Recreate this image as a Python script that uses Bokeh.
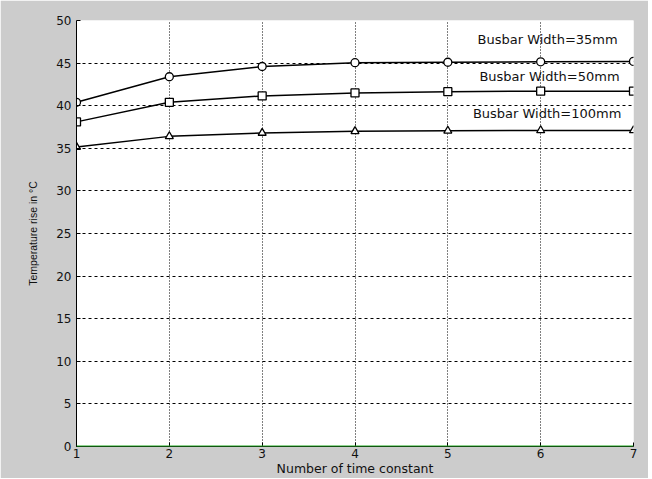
from bokeh.plotting import figure
from bokeh.models import Label, Span, FixedTicker
from bokeh.embed import file_html
from bokeh.resources import INLINE

time_constants = [1, 2, 3, 4, 5, 6, 7]
rise_35mm = [40.4, 43.4, 44.6, 45.05, 45.1, 45.15, 45.2]
rise_50mm = [38.1, 40.4, 41.15, 41.5, 41.65, 41.7, 41.7]
rise_100mm = [35.15, 36.4, 36.8, 37.0, 37.05, 37.1, 37.1]
y_ticks = [0, 5, 10, 15, 20, 25, 30, 35, 40, 45, 50]
labels = ["Busbar Width=35mm", "Busbar Width=50mm", "Busbar Width=100mm"]
label_x = [5.32, 5.34, 5.27]
label_y = [47.8, 43.4, 39.1]

FONT = "DejaVu Sans"

p = figure(width=648, height=478, output_backend="svg", toolbar_location=None,
           x_range=(1, 7), y_range=(0, 50),
           min_border_left=76, min_border_right=15, min_border_top=20, min_border_bottom=31)
p.border_fill_color = "#cccccc"
p.background_fill_color = "white"
p.outline_line_color = None

for ax in (p.xaxis[0], p.yaxis[0]):
    ax.axis_line_color = "black"
    ax.axis_line_width = 1
    ax.major_tick_in = 4
    ax.major_tick_out = 0
    ax.minor_tick_line_color = None
    ax.major_label_text_font = FONT
    ax.major_label_text_font_size = "12px"
    ax.major_label_text_color = "#111111"
    ax.axis_label_text_font_style = "normal"
    ax.axis_label_text_color = "#111111"

p.xaxis.axis_label_text_font = FONT
p.xaxis.axis_label_text_font_size = "12.5px"
p.yaxis.axis_label_text_font = "Liberation Sans"
p.yaxis.axis_label_text_font_size = "10.5px"

p.xaxis.ticker = FixedTicker(ticks=time_constants)
p.yaxis.ticker = FixedTicker(ticks=y_ticks)
p.xaxis.axis_label = "Number of time constant"
p.yaxis.axis_label = "Temperature rise in \u00b0C"
p.xaxis.major_label_standoff = 2
p.xaxis.axis_label_standoff = 0
p.yaxis.major_label_standoff = 5
p.yaxis.axis_label_standoff = 14

p.xgrid.grid_line_color = "black"
p.xgrid.grid_line_dash = "1 2"
p.xgrid.grid_line_width = 1
p.ygrid.grid_line_color = "black"
p.ygrid.grid_line_dash = "3 3"
p.ygrid.grid_line_width = 1

p.add_layout(Span(location=0, dimension="width", line_color="#22aa22", line_width=2,
                  level="overlay"))

p.line(time_constants, rise_35mm, line_color="black", line_width=1.5)
p.scatter(time_constants, rise_35mm, marker="circle", size=8, line_color="black",
          fill_color="white", line_width=1.3)
p.line(time_constants, rise_50mm, line_color="black", line_width=1.5)
p.scatter(time_constants, rise_50mm, marker="square", size=8, line_color="black",
          fill_color="white", line_width=1.3)
p.line(time_constants, rise_100mm, line_color="black", line_width=1.5)
p.scatter(time_constants, rise_100mm, marker="triangle", size=8, line_color="black",
          fill_color="white", line_width=1.3)

for t, lx, ly in zip(labels, label_x, label_y):
    p.add_layout(Label(x=lx, y=ly, text=t, text_font=FONT, text_font_size="13px",
                       text_color="#111111", text_baseline="middle"))

open("out.html", "w").write(file_html(p, INLINE))
